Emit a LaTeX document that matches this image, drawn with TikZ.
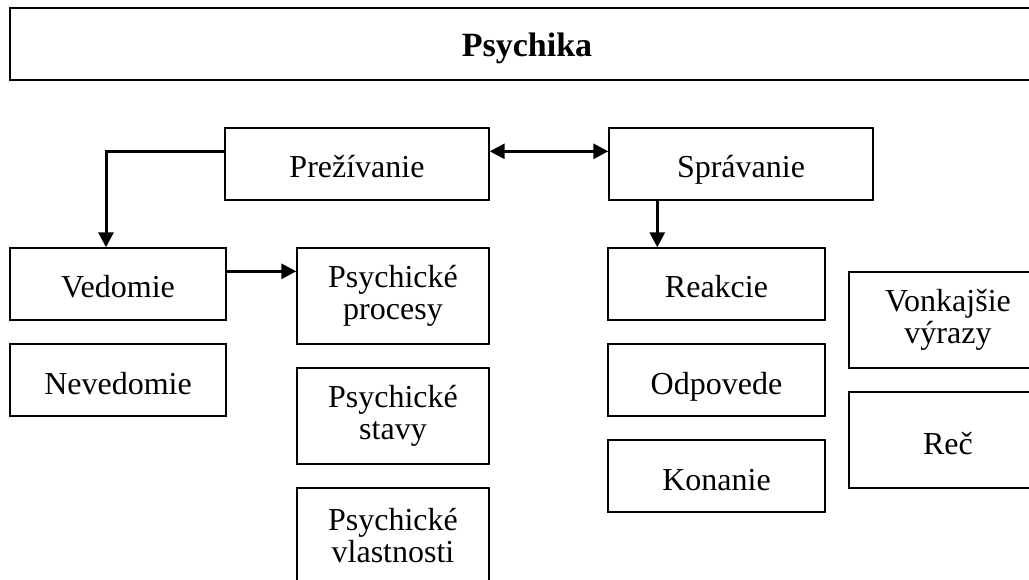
\documentclass[tikz,border=0pt]{standalone}
\usepackage{fontspec}
\setmainfont{Liberation Serif}
\usetikzlibrary{arrows.meta}
\begin{document}
\begin{tikzpicture}[x=1pt,y=-1pt,
  box/.style={draw=black, line width=1.4pt, inner sep=0pt, align=center,
    font=\fontsize{32}{32}\selectfont},
  oneline/.style={text height=31pt, text depth=3pt},
  titlebox/.style={draw=black, line width=2.6pt, inner sep=0pt, align=center,
    text height=30pt, text depth=4pt,
    font=\fontsize{34}{34}\selectfont\bfseries},
  conn/.style={line width=3pt, -{Triangle[length=15pt,width=15pt]}},
  biconn/.style={line width=3pt, {Triangle[length=15pt,width=15pt]}-{Triangle[length=15pt,width=15pt]}}]
\useasboundingbox (0,0) rectangle (1029,580);
\clip (0,0) rectangle (1029,580);
\node[titlebox, minimum width=1034pt, minimum height=72pt] (psy) at (527,44) {Psychika};
\node[box, oneline, minimum width=264pt, minimum height=72pt] (prez) at (357,164) {Prežívanie};
\node[box, oneline, minimum width=264pt, minimum height=72pt] (spr) at (741,164) {Správanie};
\node[box, oneline, minimum width=216pt, minimum height=72pt] (ved) at (118,284) {Vedomie};
\node[box, oneline, minimum width=216pt, minimum height=72pt] (nev) at (118,380) {Nevedomie};
\node[box, minimum width=192pt, minimum height=96pt] (proc) at (393,296) {Psychické\\procesy};
\node[box, minimum width=192pt, minimum height=96pt] (stav) at (393,416) {Psychické\\stavy};
\node[box, minimum width=192pt, minimum height=96pt] (vlas) at (393,536) {Psychické\\vlastnosti};
\node[box, oneline, minimum width=217pt, minimum height=72pt] (reak) at (716.5,284) {Reakcie};
\node[box, oneline, minimum width=217pt, minimum height=72pt] (odp) at (716.5,380) {Odpovede};
\node[box, oneline, minimum width=217pt, minimum height=72pt] (kon) at (716.5,476) {Konanie};
\node[box, minimum width=198pt, minimum height=96pt] (vonk) at (948,320) {Vonkajšie\\výrazy};
\node[box, oneline, minimum width=198pt, minimum height=96pt] (rec) at (948,440) {Reč};
\coordinate (p1) at ([yshift=-24pt]prez.north west);
\coordinate (v1) at ([xshift=-12pt]ved.north);
\draw[conn] (p1) -| (v1);
\coordinate (v2) at ([yshift=-24pt]ved.north east);
\draw[conn] (v2) -- (v2 -| proc.west);
\coordinate (p2) at ([yshift=-24pt]prez.north east);
\draw[biconn] (p2) -- (p2 -| spr.west);
\coordinate (s1) at ([xshift=49pt]spr.south west);
\draw[conn] (s1) -- (s1 |- reak.north);
\end{tikzpicture}
\end{document}
